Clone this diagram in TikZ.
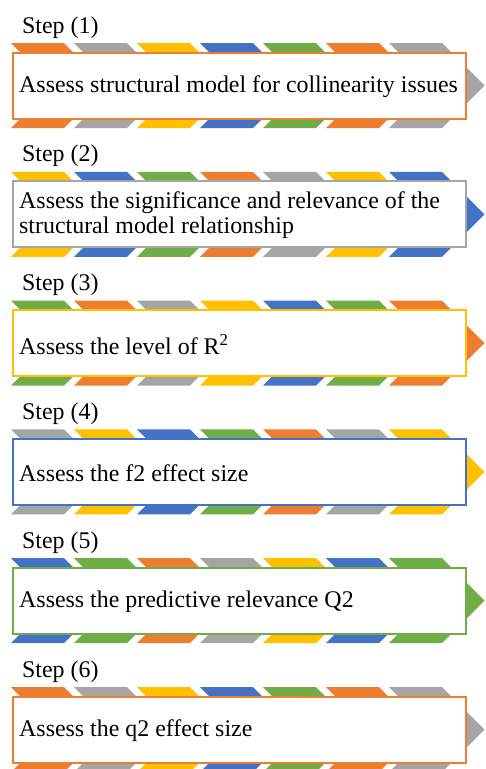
\documentclass[tikz,border=0pt]{standalone}
\usepackage{fontspec}
\setmainfont{Liberation Serif}
\definecolor{cOrange}{HTML}{ED7D31}
\definecolor{cGray}{HTML}{A5A5A5}
\definecolor{cYellow}{HTML}{FFC000}
\definecolor{cBlue}{HTML}{4472C4}
\definecolor{cGreen}{HTML}{70AD47}
\begin{document}
\begin{tikzpicture}[x=1pt,y=-1pt,
  txt/.style={font=\fontsize{23.9}{25}\selectfont},
  steplabel/.style={txt, anchor=base west, inner sep=0pt},
  stepbox/.style={draw=#1, fill=white, line width=2pt, inner sep=0pt,
    minimum width=453pt, minimum height=66pt},
  boxtext/.style={txt, anchor=west, inner sep=0pt, align=left}]
\useasboundingbox (0,0) rectangle (486,769);
\def\palette{{"cOrange","cGray","cYellow","cBlue","cGreen"}}
\foreach \k/\txt in {
  1/{Assess structural model for collinearity issues},
  2/{Assess the significance and relevance of the\\structural model relationship},
  3/{Assess the level of R\textsuperscript{2}},
  4/{Assess the f2 effect size},
  5/{Assess the predictive relevance Q2},
  6/{Assess the q2 effect size}}{
  \pgfmathsetmacro\T{43+128.8*(\k-1)}
  \pgfmathtruncatemacro\s{mod(2*(\k-1),5)}
  \pgfmathtruncatemacro\b{mod(\k-1,5)}
  \pgfmathsetmacro\bcol{\palette[\b]}
  % band of chevrons behind the box
  \foreach \i in {0,...,6}{
    \pgfmathtruncatemacro\c{mod(\s+\i,5)}
    \pgfmathsetmacro\col{\palette[\c]}
    \pgfmathsetmacro\a{11+63*\i}
    \fill[\col] (\a,\T) -- ++(53,0) -- ++(42.5,42.5) -- ++(-42.5,42.5)
      -- ++(-53,0) -- ++(42.5,-42.5) -- cycle;
  }
  \node[stepbox=\bcol] (box\k) at (239.5,\T+42.5) {};
  \node[boxtext] (text\k) at ([xshift=7pt,yshift=-1pt]box\k.west) {\txt};
  \node[steplabel] (lab\k) at (22,\T-10) {Step (\k)};
}
\end{tikzpicture}
\end{document}
